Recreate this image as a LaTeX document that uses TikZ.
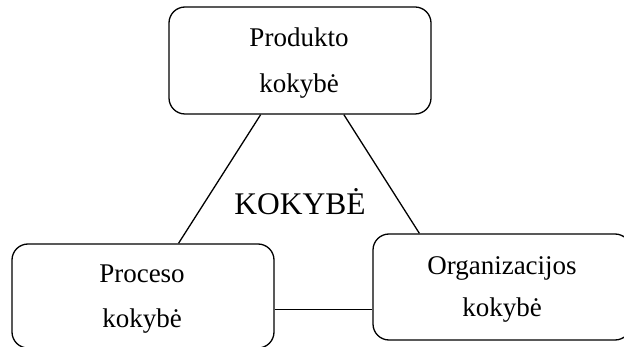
\documentclass[tikz,border=0pt]{standalone}
\usepackage{fontspec}
\setmainfont{Liberation Serif}
\begin{document}
\begin{tikzpicture}[x=1pt,y=-1pt,
  box/.style={draw, line width=1.3pt, rounded corners=16pt, inner sep=0pt},
  lbl/.style={font=\fontsize{27}{32}\selectfont, anchor=base, inner sep=0pt},
  big/.style={font=\fontsize{31.5}{36}\selectfont, anchor=base, inner sep=0pt},
  conn/.style={line width=1.3pt}]
\useasboundingbox (0,0) rectangle (624,347);
\clip (0,0) rectangle (624,347);
\node[box, minimum width=262pt, minimum height=107pt] (top) at (300,60.5) {};
\node[box, minimum width=262pt, minimum height=104pt] (lb) at (143,296) {};
\node[box, minimum width=258pt, minimum height=106pt] (rb) at (502,287) {};
\node[lbl] (t1) at (299,47) {Produkto};
\node[lbl] (t2) at (299,93) {kokybė};
\node[lbl] (l1) at (142,283) {Proceso};
\node[lbl] (l2) at (142,327) {kokybė};
\node[lbl] (r1) at (502,275) {Organizacijos};
\node[lbl] (r2) at (502,317) {kokybė};
\node[big] (k) at (300,215) {KOKYBĖ};
\draw[conn] (top.234.6) -- (lb.56);
\draw[conn] (top.-51.2) -- (rb.147);
\draw[conn] (lb.-6.5) -- (lb.-6.5 -| rb.west);
\end{tikzpicture}
\end{document}
